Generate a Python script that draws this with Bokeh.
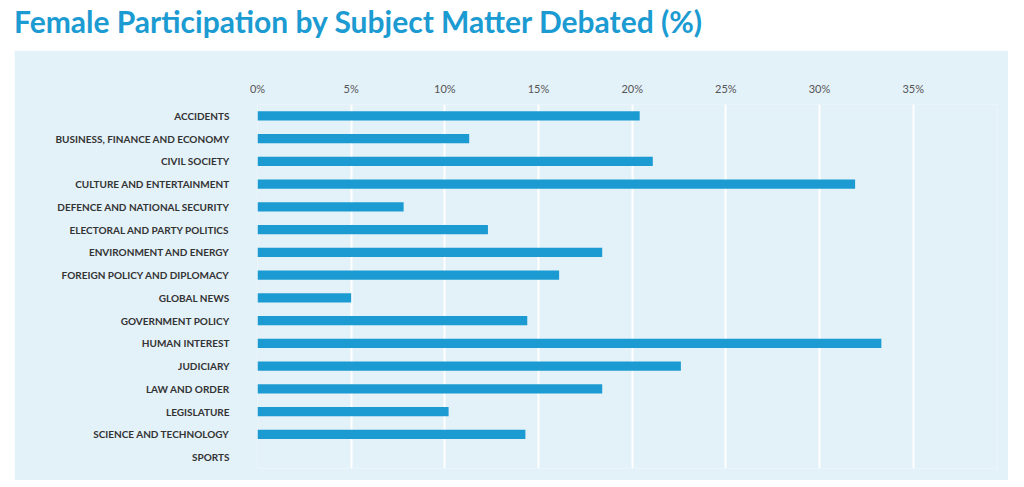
from bokeh.plotting import figure
from bokeh.models import Div, FactorRange, FixedTicker, Range1d
from bokeh.layouts import column
from bokeh.embed import file_html
from bokeh.resources import INLINE

subjects = ["ACCIDENTS", "BUSINESS, FINANCE AND ECONOMY", "CIVIL SOCIETY",
            "CULTURE AND ENTERTAINMENT", "DEFENCE AND NATIONAL SECURITY",
            "ELECTORAL AND PARTY POLITICS", "ENVIRONMENT AND ENERGY",
            "FOREIGN POLICY AND DIPLOMACY", "GLOBAL NEWS", "GOVERNMENT POLICY",
            "HUMAN INTEREST", "JUDICIARY", "LAW AND ORDER", "LEGISLATURE",
            "SCIENCE AND TECHNOLOGY", "SPORTS"]
female_pct = [20.4, 11.3, 21.1, 31.9, 7.8, 12.3, 18.4, 16.1, 5.0, 14.4,
              33.3, 22.6, 18.4, 10.2, 14.3, 0.0]
tick_values = [0, 5, 10, 15, 20, 25, 30, 35]
tick_labels = {v: f"{v}%" for v in tick_values}

bg = "#e3f1f9"
blue = "#1b9bd1"

title = Div(text="Female Participation by Subject Matter Debated (%)",
            width=994, height=48, margin=(0, 0, 2, 14),
            styles={"font-family": "Lato", "font-weight": "bold",
                    "font-size": "30px", "color": blue, "white-space": "nowrap"})

p = figure(width=994, height=430, output_backend="svg", toolbar_location=None,
           y_range=FactorRange(*reversed(subjects)), x_range=Range1d(0, 39.5),
           x_axis_location="above", margin=(0, 0, 0, 14),
           min_border_left=243, min_border_right=11, min_border_top=54,
           min_border_bottom=12)
p.background_fill_color = bg
p.border_fill_color = bg
p.outline_line_color = None
p.y_range.range_padding = 0
p.hbar(y=subjects, right=female_pct, left=0, height=0.4,
       fill_color=blue, line_color=None)

p.xaxis.ticker = FixedTicker(ticks=tick_values)
p.xaxis.major_label_overrides = tick_labels
p.xaxis.axis_line_color = None
p.xaxis.major_tick_line_color = None
p.xaxis.minor_tick_line_color = None
p.xaxis.major_label_text_font = "Lato"
p.xaxis.major_label_text_font_size = "11px"
p.xaxis.major_label_text_color = "#555555"
p.xaxis.major_label_standoff = 4

p.yaxis.axis_line_color = None
p.yaxis.major_tick_line_color = None
p.yaxis.major_label_text_font = "Lato"
p.yaxis.major_label_text_font_style = "bold"
p.yaxis.major_label_text_font_size = "10px"
p.yaxis.major_label_text_color = "#333333"
p.yaxis.major_label_standoff = 22

p.xgrid.grid_line_color = "white"
p.xgrid.grid_line_width = 2
p.ygrid.grid_line_color = None

open("out.html", "w").write(file_html(column(title, p, spacing=0), INLINE))
